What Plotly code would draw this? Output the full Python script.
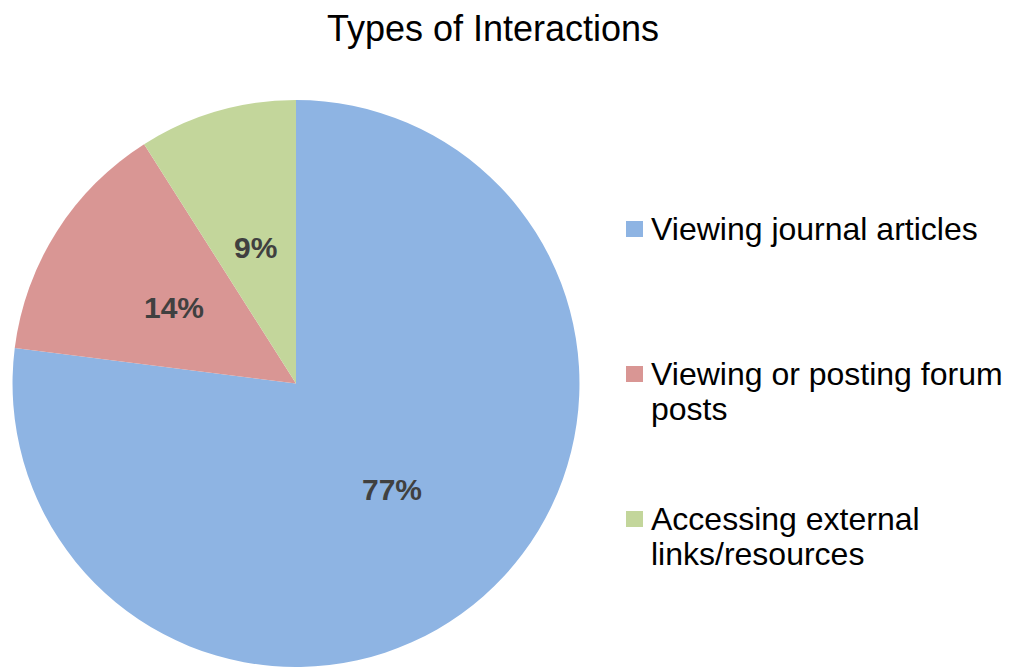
import math
import plotly.graph_objects as go

title = "Types of Interactions"
labels = ["Viewing journal articles", "Viewing or posting forum posts", "Accessing external links/resources"]
legend_lines = [["Viewing journal articles"], ["Viewing or posting forum", "posts"], ["Accessing external", "links/resources"]]
values = [77, 14, 9]
colors = ["#8EB4E3", "#D99694", "#C3D69B"]

W, H = 1009, 667
dom_x = [12 / W, 580 / W]
dom_y = [0.0, 0.85]

fig = go.Figure()
fig.add_trace(go.Pie(
    labels=labels,
    values=values,
    sort=False,
    direction="clockwise",
    rotation=0,
    marker=dict(colors=colors, line=dict(width=0)),
    textinfo="none",
    domain=dict(x=dom_x, y=dom_y),
    showlegend=False,
    hoverinfo="label+percent",
))

# percentage labels placed at the middle of each slice (about half radius)
cx = (dom_x[0] + dom_x[1]) / 2 * W
cy = (1 - (dom_y[0] + dom_y[1]) / 2) * H
r = min((dom_x[1] - dom_x[0]) * W, (dom_y[1] - dom_y[0]) * H) / 2
total = sum(values)
annotations = []
cum = 0
for v in values:
    mid = (cum + v / 2) / total * 2 * math.pi
    cum += v
    px = cx + 0.51 * r * math.sin(mid)
    py = cy - 0.50 * r * math.cos(mid)
    annotations.append(dict(xref="paper", yref="paper", x=px / W, y=1 - py / H,
                            text=f"{round(v / total * 100)}%", showarrow=False,
                            xanchor="center", yanchor="middle",
                            font=dict(family="Liberation Sans", size=30, color="#404040", weight="bold")))

# manual legend (square swatch + text) to reproduce the spacing
legend_top = [229, 374, 519]
line_gap = 35
shapes = []
for lines, col, yt in zip(legend_lines, colors, legend_top):
    shapes.append(dict(type="rect", xref="paper", yref="paper",
                       x0=626 / W, x1=643 / W, y0=1 - (yt + 8) / H, y1=1 - (yt - 8) / H,
                       fillcolor=col, line=dict(width=0)))
    for i, ln in enumerate(lines):
        annotations.append(dict(xref="paper", yref="paper", x=649 / W, y=1 - (yt + i * line_gap) / H,
                                text=ln, showarrow=False, xanchor="left", yanchor="middle",
                                align="left",
                                font=dict(family="Liberation Sans", size=32, color="#000000")))

fig.update_layout(
    width=W, height=H,
    margin=dict(l=0, r=0, t=0, b=0),
    paper_bgcolor="white",
    plot_bgcolor="white",
    title=dict(text=title, x=493 / W, xanchor="center", y=1 - 28 / H, yanchor="middle",
               font=dict(family="Liberation Sans", size=36, color="#000000")),
    shapes=shapes,
    annotations=annotations,
)

fig.write_html("out.html", config={"displayModeBar": False},
               post_script="document.body.style.margin='0';")
